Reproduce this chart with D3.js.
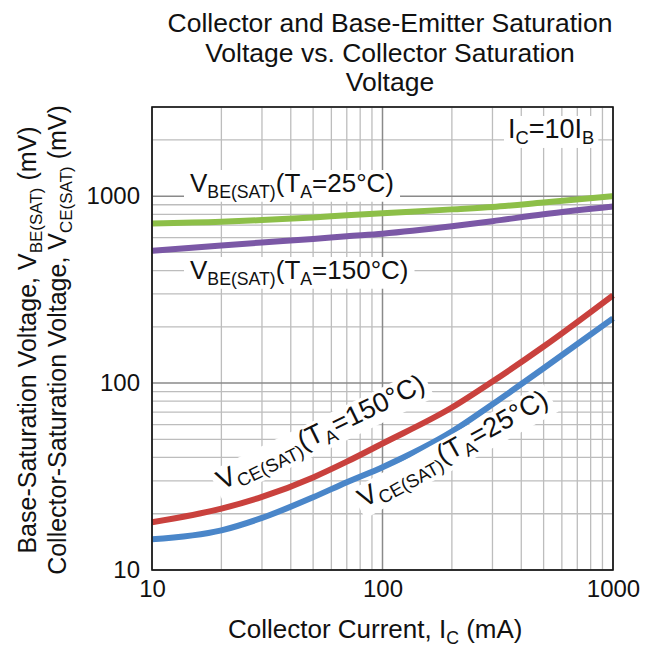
<!DOCTYPE html>
<html>
<head>
<meta charset="utf-8">
<script src="https://cdn.jsdelivr.net/npm/d3@7"></script>
<style>
  body { margin: 0; background: #fff; }
  text { font-family: "Liberation Sans", Arial, sans-serif; fill: #111; }
</style>
</head>
<body>
<svg id="chart" width="659" height="650"></svg>
<script>
// data (mA -> mV)
const collectorCurrent = [10, 20, 30, 50, 70, 100, 200, 300, 500, 1000];
const vbeSat25 = [715, 730, 745, 770, 790, 810, 850, 875, 925, 1000];
const vbeSat150 = [510, 545, 565, 590, 610, 630, 690, 735, 800, 880];
const vceSat150 = [18, 21.3, 24.6, 31.3, 38, 47.5, 74, 102, 157, 295];
const vceSat25 = [14.6, 16.3, 19, 24.5, 29.5, 35.5, 55, 77, 120, 222];
const xTicks = [10, 100, 1000];
const yTicks = [10, 100, 1000];

const width = 659, height = 650;
const margin = { top: 107, right: 46, bottom: 80, left: 152 };
const boundsWidth = width - margin.left - margin.right;
const boundsHeight = height - margin.top - margin.bottom;

const svg = d3.select("#chart");

const x = d3.scaleLog().domain([10, 1000]).range([0, boundsWidth]);
const y = d3.scaleLog().domain([10, 3000]).range([boundsHeight, 0]);

const g = svg.append("g").attr("transform", `translate(${margin.left},${margin.top})`);

// grid
const minorX = [];
for (let d = 10; d < 1000; d *= 10) for (let k = 2; k <= 9; k++) minorX.push(d * k);
const minorY = [];
for (let d = 10; d < 3000; d *= 10) for (let k = 2; k <= 9; k++) if (d * k <= 3000) minorY.push(d * k);

g.append("g").selectAll("line").data(minorX).join("line")
  .attr("x1", d => x(d)).attr("x2", d => x(d)).attr("y1", 0).attr("y2", boundsHeight)
  .attr("stroke", "#bdbdbd").attr("stroke-width", 1.3);
g.append("g").selectAll("line").data(minorY).join("line")
  .attr("y1", d => y(d)).attr("y2", d => y(d)).attr("x1", 0).attr("x2", boundsWidth)
  .attr("stroke", "#bdbdbd").attr("stroke-width", 1.3);
g.append("g").selectAll("line").data(xTicks).join("line")
  .attr("x1", d => x(d)).attr("x2", d => x(d)).attr("y1", 0).attr("y2", boundsHeight)
  .attr("stroke", "#8a8a8a").attr("stroke-width", 1.5);
g.append("g").selectAll("line").data(yTicks).join("line")
  .attr("y1", d => y(d)).attr("y2", d => y(d)).attr("x1", 0).attr("x2", boundsWidth)
  .attr("stroke", "#8a8a8a").attr("stroke-width", 1.5);

// axes (labels only)
const xAxis = g.append("g").attr("transform", `translate(0,${boundsHeight})`)
  .call(d3.axisBottom(x).tickValues(xTicks).tickFormat(d3.format("d")).tickSize(0).tickPadding(10));
const yAxis = g.append("g")
  .call(d3.axisLeft(y).tickValues(yTicks).tickFormat(d3.format("d")).tickSize(0).tickPadding(12));
[xAxis, yAxis].forEach(a => {
  a.select(".domain").remove();
  a.selectAll("text").style("font-size", "24px").attr("fill", "#111")
    .style("font-family", "'Liberation Sans', Arial, sans-serif");
});
xAxis.selectAll("text").attr("dy", "0.71em");

// curves
const series = [
  { values: vbeSat25, color: "#8dbf48" },
  { values: vbeSat150, color: "#7b58a6" },
  { values: vceSat150, color: "#c9413d" },
  { values: vceSat25, color: "#4a86c9" }
];
const line = d3.line().x(d => x(d[0])).y(d => y(d[1])).curve(d3.curveMonotoneX);
g.append("g").selectAll("path").data(series).join("path")
  .attr("d", s => line(collectorCurrent.map((c, i) => [c, s.values[i]])))
  .attr("fill", "none").attr("stroke", s => s.color).attr("stroke-width", 6);

// text with subscripts
function label(parent, parts, size) {
  const t = parent.append("text").style("font-size", size + "px");
  let sub = false;
  parts.forEach(p => {
    const isSub = !!p[1];
    const ts = t.append("tspan").text(p[0]);
    if (isSub) ts.style("font-size", (size * 0.68) + "px");
    ts.attr("dy", isSub && !sub ? size * 0.22 : (!isSub && sub ? -size * 0.22 : 0));
    sub = isSub;
  });
  return t;
}
function boxed(parts, size, px, py, angle, halo) {
  const grp = g.append("g").attr("transform", `translate(${px - margin.left},${py - margin.top}) rotate(${angle})`);
  const bg = grp.append("rect").attr("fill", "#fff");
  const t = label(grp, parts, size);
  const b = t.node().getBBox();
  bg.attr("x", b.x - halo).attr("y", b.y + 2).attr("width", b.width + 2 * halo).attr("height", b.height - 2);
  return grp;
}
boxed([["V"], ["BE(SAT)", 1], ["(T"], ["A", 1], ["=25°C)"]], 26, 190, 192, 0, 6);
boxed([["V"], ["BE(SAT)", 1], ["(T"], ["A", 1], ["=150°C)"]], 26, 190, 279, 0, 6);
boxed([["I"], ["C", 1], ["=10I"], ["B", 1]], 27, 508, 138, 0, 4);
boxed([["V"], ["CE(SAT)", 1], ["(T"], ["A", 1], ["=150°C)"]], 27, 222, 490, -26, 4);
boxed([["V"], ["CE(SAT)", 1], ["(T"], ["A", 1], ["=25°C)"]], 27, 364, 508, -29, 4);

// frame
g.append("rect").attr("width", boundsWidth).attr("height", boundsHeight)
  .attr("fill", "none").attr("stroke", "#111").attr("stroke-width", 1.6);

// title
const title = ["Collector and Base-Emitter Saturation", "Voltage vs. Collector Saturation", "Voltage"];
svg.append("g").selectAll("text").data(title).join("text")
  .attr("x", 390).attr("y", (d, i) => 32 + i * 29.5)
  .attr("text-anchor", "middle").style("font-size", "26.5px").text(d => d);

// x label
const xl = label(svg, [["Collector Current, I"], ["C", 1], [" (mA)"]], 26);
xl.attr("transform", "translate(228,638)");

// y labels
const yl1 = label(svg, [["Base-Saturation Voltage, V"], ["BE(SAT)", 1], [" (mV)"]], 25);
const yl2 = label(svg, [["Collector-Saturation Voltage, V"], ["CE(SAT)", 1], [" (mV)"]], 25);
[[yl1, 36], [yl2, 66]].forEach(([t, px]) => {
  const w = t.node().getBBox().width;
  t.attr("transform", `translate(${px},${340 + w / 2}) rotate(-90)`);
});
</script>
</body>
</html>
